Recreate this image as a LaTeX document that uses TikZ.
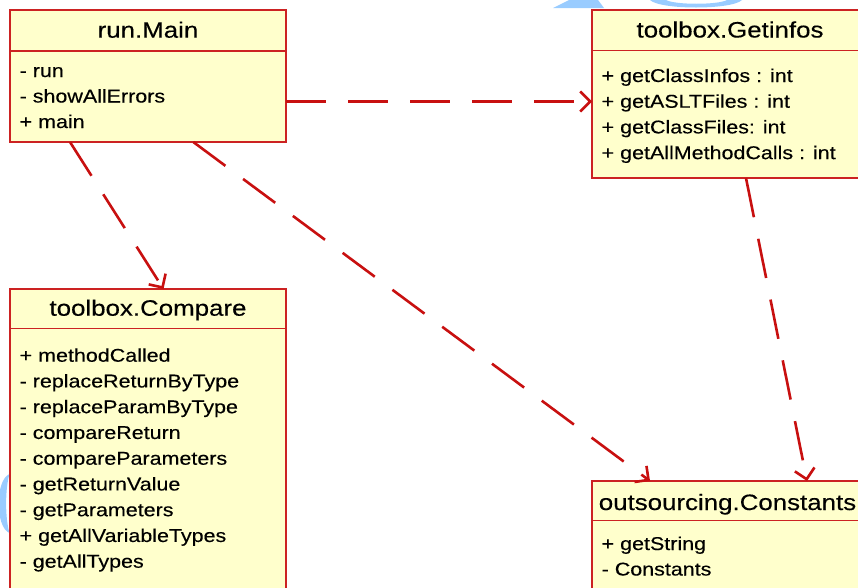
\documentclass[tikz,border=0pt]{standalone}
\usepackage{fontspec}
\newfontfamily\umlfont[FakeStretch=1.16,FakeBold=0.3]{Liberation Sans}
\usetikzlibrary{arrows.meta,calc}
\definecolor{umlred}{RGB}{200,16,16}
\definecolor{umlborder}{RGB}{204,34,34}
\definecolor{umlfill}{RGB}{255,255,204}
\definecolor{markblue}{RGB}{153,204,255}

\begin{document}
\begin{tikzpicture}[x=1pt,y=-1pt,
  classbox/.style={draw=umlborder, fill=umlfill, line width=1.5pt, rectangle,
    inner sep=0pt, outer sep=0pt, anchor=north west},
  classname/.style={anchor=base, inner sep=0pt,
    font=\umlfont\fontsize{22.3}{26}\selectfont},
  member/.style={anchor=base west, inner sep=0pt,
    font=\umlfont\fontsize{18.5}{22}\selectfont},
  divider/.style={draw=umlborder, line width=1.5pt},
  dep/.style={draw=umlred, line width=2.6pt, dash pattern=on 40pt off 22pt,
    -{Straight Barb[length=10pt,width=20pt]}},
]
\useasboundingbox (0,0) rectangle (858,587);
\clip (0,0) rectangle (858,587);

% light blue background marks
\fill[markblue] (553,8) -- (569,0) -- (598,0) -- (604,8) -- cycle;
\fill[markblue] (650,0) .. controls (660,10) and (732,10) .. (742,0)
  -- (727,0) .. controls (718,5) and (675,5) .. (666,0) -- cycle;
\fill[markblue] (9.5,474) .. controls (-5,480) and (-5,527) .. (9.5,533)
  .. controls (5,518) and (5,489) .. (9.5,474) -- cycle;

% run.Main
\node[classbox, minimum width=276pt, minimum height=132pt] (main) at (10,10) {};
\draw[divider] (10,51) -- (286,51);
\node[classname] (mainT) at (148,37.7) {run.Main};
\foreach \t [count=\i from 0] in {- run, - showAllErrors, + main}
  \node[member] (mainm\i) at (19.5,{77+25.5*\i}) {\t};

% toolbox.Getinfos
\node[classbox, minimum width=276pt, minimum height=168pt] (info) at (592,10) {};
\draw[divider] (592,50.7) -- (868,50.7);
\node[classname] (infoT) at (730,37.5) {toolbox.Getinfos};
\foreach \t [count=\i from 0] in {+ getClassInfos : int, + getASLTFiles : int,
    + getClassFiles: int, + getAllMethodCalls : int}
  \node[member] (infom\i) at (601.5,{82+25.7*\i}) {\t};

% toolbox.Compare
\node[classbox, minimum width=276pt, minimum height=311pt] (comp) at (10,289) {};
\draw[divider] (10,328.3) -- (286,328.3);
\node[classname] (compT) at (148,315.7) {toolbox.Compare};
\foreach \t [count=\i from 0] in {+ methodCalled, - replaceReturnByType,
    - replaceParamByType, - compareReturn, - compareParameters,
    - getReturnValue, - getParameters, + getAllVariableTypes, - getAllTypes}
  \node[member] (compm\i) at (19.5,{361.7+25.75*\i}) {\t};

% outsourcing.Constants
\node[classbox, minimum width=271pt, minimum height=120pt] (const) at (592,481) {};
\draw[divider] (592,520.7) -- (863,520.7);
\node[classname] (constT) at (727.5,510) {outsourcing.Constants};
\foreach \t [count=\i from 0] in {+ getString, - Constants}
  \node[member] (constm\i) at (601.5,{550+25.5*\i}) {\t};

% dependencies
\draw[dep] ($(main.north east)+(0,91.5)$) -- ($(info.north west)+(0,91.5)$);
\draw[dep] ($(main.south west)+(60,0)$) -- ($(comp.north west)+(153.5,0)$);
\draw[dep] ($(main.south west)+(183.3,0)$) -- ($(const.north west)+(58,0)$);
\draw[dep] ($(info.south west)+(154,0)$) -- ($(const.north west)+(215,0)$);
\end{tikzpicture}
\end{document}
